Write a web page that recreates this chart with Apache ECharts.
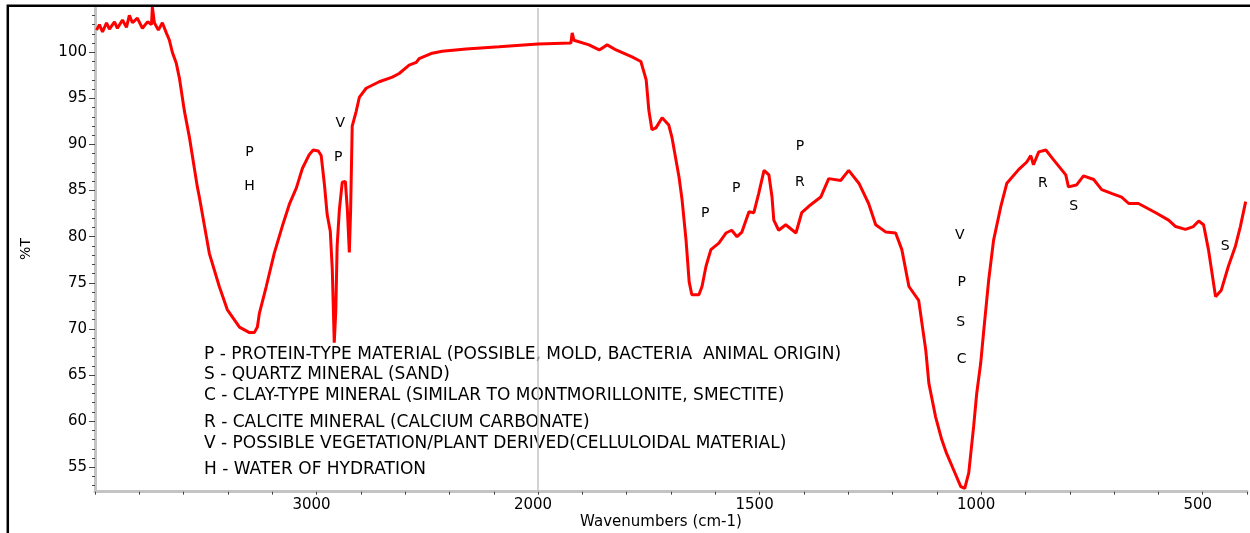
<!DOCTYPE html>
<html>
<head>
<meta charset="utf-8">
<script src="https://cdn.jsdelivr.net/npm/echarts@6/dist/echarts.min.js"></script>
<style>html,body{margin:0;padding:0;background:#fff;}#chart{width:1250px;height:533px;}</style>
</head>
<body>
<div id="chart"></div>
<script>
// Wavenumber (cm-1) and %T
const wavenumbers = [3993,3980,3966,3948,3935,3912,3899,3876,3858,3845,3831,3809,3786,3763,3745,3741,3732,3714,3696,3678,3664,3651,3633,3619,3597,3574,3560,3538,3529,3484,3439,3403,3348,3303,3281,3267,3258,3227,3191,3155,3123,3091,3064,3033,3015,2992,2979,2965,2952,2938,2929,2920,2913,2907,2897,2884,2870,2861,2852,2846,2839,2821,2807,2776,2717,2658,2627,2582,2550,2537,2478,2433,2325,2176,2000,1926,1923,1919,1885,1862,1844,1824,1788,1768,1756,1750,1743,1734,1720,1705,1698,1682,1675,1666,1659,1653,1637,1630,1621,1610,1592,1576,1563,1551,1540,1524,1513,1502,1490,1479,1472,1468,1457,1441,1418,1405,1389,1362,1344,1317,1299,1276,1254,1238,1215,1193,1179,1163,1141,1125,1118,1103,1089,1078,1062,1046,1037,1028,1017,1010,1001,994,983,972,956,942,915,897,888,882,870,854,836,809,803,785,769,746,728,706,683,667,645,606,577,561,539,521,509,498,487,480,471,458,442,426,415,403];
const transmittance = [102.4,103.0,102.2,103.2,102.5,103.3,102.6,103.5,102.7,104.0,103.2,103.7,102.6,103.3,103.0,104.9,103.2,102.4,103.2,102.1,101.3,100.0,98.8,97.2,93.7,90.8,88.7,85.4,84.3,78.2,74.6,72.1,70.2,69.6,69.6,70.2,71.7,74.6,78.2,81.1,83.5,85.3,87.4,88.9,89.4,89.3,88.8,85.8,82.4,80.6,76.5,68.5,72.0,79.0,82.9,85.9,86.0,83.0,78.3,83.0,92.0,93.6,95.1,96.1,96.8,97.3,97.7,98.6,98.9,99.3,99.9,100.1,100.35,100.6,100.9,101.0,102.1,101.3,100.8,100.25,100.8,100.25,99.5,99.0,97.0,93.7,91.6,91.8,92.9,92.1,90.8,86.5,84.0,79.6,75.1,73.7,73.7,74.6,76.8,78.6,79.3,80.4,80.7,80.0,80.5,82.7,82.6,84.7,87.2,86.7,84.3,81.8,80.7,81.3,80.4,82.6,83.3,84.3,86.3,86.1,87.2,85.8,83.6,81.3,80.5,80.4,78.6,74.6,73.1,67.7,64.1,60.5,58.0,56.5,54.7,52.9,52.7,54.4,59.4,63.0,66.3,69.9,75.3,79.6,83.2,85.8,87.3,88.1,88.8,87.8,89.2,89.4,88.3,86.7,85.4,85.6,86.6,86.2,85.1,84.7,84.3,83.6,83.6,82.6,81.8,81.1,80.8,81.1,81.7,81.3,78.6,76.4,73.5,74.2,76.8,79.0,81.1,83.8];

// Band assignment letters: [wavenumber, %T, letter]
const bandLetters = [
  [3303, 89.2, 'P'], [3303, 85.5, 'H'],
  [2893, 92.3, 'V'], [2902, 88.65, 'P'],
  [1623, 82.5, 'P'], [1553, 85.2, 'P'],
  [1409, 89.8, 'P'], [1409, 85.9, 'R'],
  [1048, 80.1, 'V'], [1044, 75.1, 'P'], [1046, 70.75, 'S'], [1044, 66.75, 'C'],
  [861, 85.8, 'R'], [791, 83.3, 'S'],
  [449, 79.0, 'S']
];

const legendLines = [
  'P - PROTEIN-TYPE MATERIAL (POSSIBLE, MOLD, BACTERIA  ANIMAL ORIGIN)',
  'S - QUARTZ MINERAL (SAND)',
  'C - CLAY-TYPE MINERAL (SIMILAR TO MONTMORILLONITE, SMECTITE)',
  'R - CALCITE MINERAL (CALCIUM CARBONATE)',
  'V - POSSIBLE VEGETATION/PLANT DERIVED(CELLULOIDAL MATERIAL)',
  'H - WATER OF HYDRATION'
];

const xTickLabels = [3000, 2000, 1500, 1000, 500];
const yTickLabels = [55, 60, 65, 70, 75, 80, 85, 90, 95, 100];
const yMinorTicks = [53,54,55,56,57,58,59,60,61,62,63,64,65,66,67,68,69,70,71,72,73,74,75,76,77,78,79,80,81,82,83,84,85,86,87,88,89,90,91,92,93,94,95,96,97,98,99,100,101,102,103,104];

// Axis is compressed by 2x above 2000 cm-1 (instrument style)
function toAxis(w) { return w > 2000 ? 2000 + (w - 2000) / 2 : w; }
function fromAxis(u) { return u > 2000 ? 2000 + (u - 2000) * 2 : u; }

const lineData = wavenumbers.map((w, i) => [toAxis(w), transmittance[i]]);
const letterData = bandLetters.map(b => ({ value: [toAxis(b[0]), b[1]], name: b[2] }));

const FONT = 'DejaVu Sans';
const legendY = [355, 375, 396, 423, 444, 470];

const chart = echarts.init(document.getElementById('chart'), null, { renderer: 'canvas' });
chart.setOption({
  animation: false,
  backgroundColor: '#fff',
  grid: { left: 95, right: 3, top: 8, bottom: 41.3, containLabel: false },
  xAxis: {
    type: 'value', min: 400, max: 3000, interval: 100, inverse: true,
    axisLine: { show: true, onZero: false, lineStyle: { color: '#c4c4c4', width: 3 } },
    axisTick: { show: true, length: 3, lineStyle: { color: '#444', width: 1 } },
    splitLine: { show: false },
    axisLabel: {
      margin: 6, color: '#000', fontFamily: FONT, fontSize: 15, padding: [0, 10, 0, 0],
      formatter: function (v) {
        const w = Math.round(fromAxis(v));
        return xTickLabels.indexOf(w) >= 0 ? String(w) : '';
      }
    }
  },
  yAxis: [
    {
      type: 'value', min: 52.35, max: 104.8, position: 'left',
      axisLine: { show: true, onZero: false, lineStyle: { color: '#c4c4c4', width: 3 } },
      axisTick: { show: true, length: 6, customValues: yTickLabels, lineStyle: { color: '#444', width: 1 } },
      axisLabel: { margin: 8, color: '#000', fontFamily: FONT, fontSize: 15, customValues: yTickLabels },
      splitLine: { show: false }
    },
    {
      type: 'value', min: 52.35, max: 104.8, position: 'left', offset: 0,
      axisLine: { show: false },
      axisTick: { show: true, length: 3, customValues: yMinorTicks, lineStyle: { color: '#444', width: 1 } },
      axisLabel: { show: false },
      splitLine: { show: false }
    }
  ],
  series: [
    {
      type: 'line', data: lineData, yAxisIndex: 0, showSymbol: false, symbol: 'none',
      lineStyle: { color: '#ff0000', width: 3 }, z: 3, silent: true,
      markLine: {
        silent: true, symbol: 'none', label: { show: false },
        lineStyle: { color: '#c4c4c4', type: 'solid', width: 1.5 },
        data: [{ xAxis: 2000 }], z: 1
      }
    },
    {
      type: 'scatter', data: letterData, yAxisIndex: 0, symbolSize: 0,
      itemStyle: { color: '#000' }, silent: true, z: 4,
      label: {
        show: true, position: 'inside', formatter: p => p.name,
        color: '#000', fontFamily: FONT, fontSize: 14, textBorderWidth: 0, opacity: 1
      }
    }
  ],
  graphic: [
    { type: 'rect', shape: { x: 7.8, y: 5.7, width: 1400, height: 700 }, style: { fill: null, stroke: '#000', lineWidth: 2.5 }, silent: true, z: 10 },
    { type: 'text', x: 26, y: 249, rotation: Math.PI / 2, style: { text: '%T', fill: '#000', font: '14px "' + FONT + '"', textAlign: 'center', textVerticalAlign: 'middle' } },
    { type: 'text', x: 661, y: 522, style: { text: 'Wavenumbers (cm-1)', fill: '#000', font: '15px "' + FONT + '"', textAlign: 'center', textVerticalAlign: 'middle' } }
  ].concat(legendLines.map((t, i) => ({
    type: 'text', x: 204, y: legendY[i],
    style: { text: t, fill: '#000', font: '17px "' + FONT + '"', textAlign: 'left', textVerticalAlign: 'middle' }
  })))
});
</script>
</body>
</html>
